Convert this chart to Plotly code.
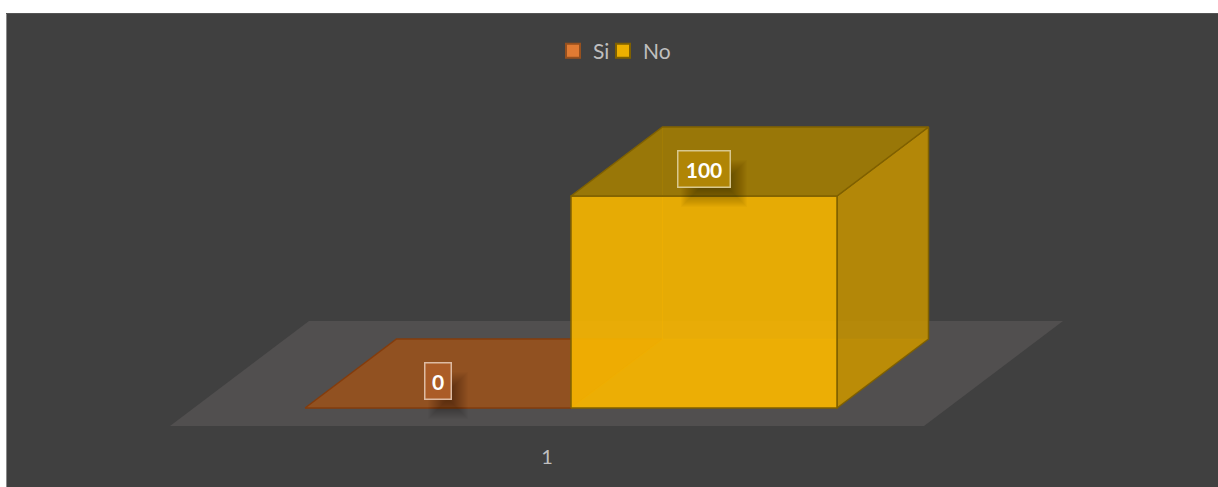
import plotly.graph_objects as go

# ---- data ----
CATEGORIES = ["1"]
SERIES_NAMES = ["Si", "No"]
SI_VALUES = [0]
NO_VALUES = [100]

# ---- styles ----
BG = "#404040"
FLOOR = "#514F4F"
TEXT = "#BFBFBF"
W, H = 1218, 487
BOTTOM = 44

# scale: 1 x unit = bar width, y unit = value
PX_X = 266.0
PX_Y = 2.12
X0_PX = 571.0
Y0_PX = 408.0
DX = 91.5 / PX_X    # oblique depth, x
DY = 69 / PX_Y      # oblique depth, y

x_range = [-X0_PX / PX_X, (W - X0_PX) / PX_X]
y_range = [(Y0_PX - (H - BOTTOM)) / PX_Y, Y0_PX / PX_Y]

fig = go.Figure()


def poly(xs, ys, fill, line=None, lw=0, name=None):
    fig.add_trace(go.Scatter(
        x=xs + xs[:1], y=ys + ys[:1], mode="lines", fill="toself", fillcolor=fill,
        line=dict(color=line or "rgba(0,0,0,0)", width=lw),
        showlegend=False, hoverinfo="skip", name=name, cliponaxis=False,
    ))


# floor
fx0, fx1 = -401 / PX_X, 353 / PX_X
fy0, fdy, fdx = -18 / PX_Y, 105 / PX_Y, 139 / PX_X
poly([fx0, fx1, fx1 + fdx, fx0 + fdx], [fy0, fy0, fy0 + fdy, fy0 + fdy], FLOOR)


def bar(x, v, c):
    xr = x + 1
    if v > 0:
        # hidden faces seen through the translucent front
        poly([x, xr, xr + DX, x + DX], [0, 0, DY, DY], c["bottom"])
        poly([x + DX, xr + DX, xr + DX, x + DX], [DY, DY, DY + v, DY + v], c["back"], c["back_line"], 1)
        poly([x, x + DX, x + DX, x], [0, DY, DY + v, v], c["back"], c["back_line"], 1)
        poly([xr, xr + DX, xr + DX, xr], [0, DY, DY + v, v], c["side"], c["edge"], 1.5)
        poly([x, xr, xr, x], [0, 0, v, v], c["front"], c["edge"], 1.5)
    poly([x, xr, xr + DX, x + DX], [v, v, v + DY, v + DY], c["top"], c["edge"], 1.5)


SI_STYLE = dict(top="rgba(150,82,30,0.93)", edge="#843C0C", swatch="#E07B33", sw_line="#96501E",
                box="#AB5C27")
NO_STYLE = dict(top="rgba(165,126,0,0.85)", side="rgba(195,145,0,0.85)", front="rgba(246,181,0,0.9)",
                bottom="rgba(255,192,0,0.35)", back="rgba(255,192,0,0.12)", back_line="rgba(255,192,0,0.18)",
                edge="#7F6000", swatch="#EDB000", sw_line="#7F6000", box="#B08505")

bar(-1, SI_VALUES[0], SI_STYLE)
bar(0, NO_VALUES[0], NO_STYLE)

# legend entries: one legend each, so the two items sit as tightly as in the reference
for name, st, lg in zip(SERIES_NAMES, (SI_STYLE, NO_STYLE), ("legend", "legend2")):
    fig.add_trace(go.Scatter(
        x=[None], y=[None], mode="markers", name=name, legend=lg,
        marker=dict(symbol="square", size=14, color=st["swatch"], line=dict(color=st["sw_line"], width=2)),
    ))

# data labels with soft shadow
shapes = []
annots = []
for x, v, st, bw in ((-1, SI_VALUES[0], SI_STYLE, 28), (0, NO_VALUES[0], NO_STYLE, 54)):
    cx = x + 0.5
    for shrink in range(0, 20):
        shapes.append(dict(
            type="rect", xref="x", yref="y", xsizemode="pixel", ysizemode="pixel",
            xanchor=cx, yanchor=v, layer="above", line=dict(width=0),
            fillcolor="rgba(0,0,0,0.02)",
            x0=-bw / 2 + 4 + shrink, x1=bw / 2 + 16 - shrink,
            y0=-11 + shrink, y1=36 - shrink,
        ))
    annots.append(dict(
        x=cx, y=v, xref="x", yref="y", yshift=27, text=f"<b>{v}</b>", showarrow=False,
        font=dict(family="Lato", size=21, color="#FFFFFF"),
        width=bw - 3, height=35, borderpad=0, borderwidth=1.5,
        bordercolor="#D8C88F" if v else "#DDBBA3", bgcolor=st["box"], align="center", valign="middle",
    ))

# white page edge around the dark chart area
for x0, y0, x1, y1, col in ((0, 0, 1, 13 / H, "#FFFFFF"), (0, 0, 6 / W, 1, "#FFFFFF"),
                            (6 / W, 13 / H, 7 / W, 1, "#8A8A8A"), (6 / W, 13 / H, 1, 14 / H, "#555555")):
    shapes.append(dict(type="rect", xref="paper", yref="paper", x0=x0, x1=x1, y0=1 - y0, y1=1 - y1,
                       fillcolor=col, line=dict(width=0), layer="above"))

legend_common = dict(orientation="h", xanchor="left", y=0.895, yanchor="middle", yref="paper",
                     bgcolor="rgba(0,0,0,0)", font=dict(family="Lato", size=21, color=TEXT),
                     itemsizing="trace", itemwidth=30)

fig.update_layout(
    width=W, height=H, margin=dict(l=0, r=0, t=0, b=0),
    paper_bgcolor=BG, plot_bgcolor=BG,
    showlegend=True,
    legend=dict(x=(594 - 41) / W, **legend_common),
    legend2=dict(x=(644 - 41) / W, **legend_common),
    xaxis=dict(range=x_range, showgrid=False, zeroline=False, showline=False, ticks="",
               tickmode="array", tickvals=[-24 / PX_X], ticktext=CATEGORIES,
               tickfont=dict(family="Lato", size=20, color=TEXT), automargin=False),
    yaxis=dict(range=y_range, domain=[BOTTOM / H, 1], showgrid=False, zeroline=False,
               showline=False, showticklabels=False, ticks="", automargin=False),
    shapes=shapes, annotations=annots, hovermode=False,
)

fig.write_html("out.html", config=dict(displayModeBar=False),
               post_script="document.body.style.margin='0';")
